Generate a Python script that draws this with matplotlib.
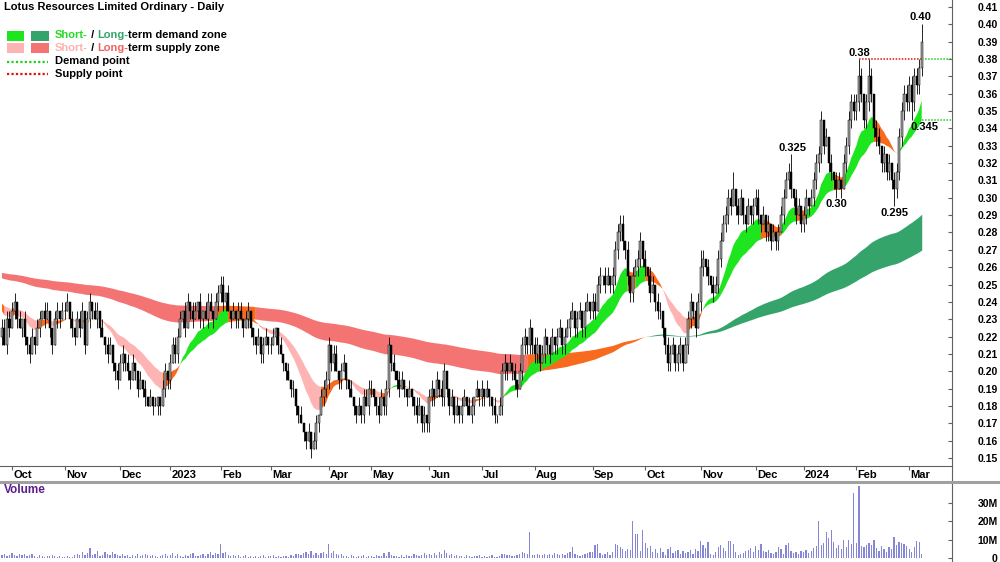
import matplotlib
matplotlib.use('Agg')
import matplotlib.pyplot as plt
from matplotlib import font_manager
from matplotlib.patches import Rectangle
from matplotlib.lines import Line2D
import numpy as np
import pandas as pd

# closing prices in thousandths of a dollar, one row per month (Sep 2022 .. Mar 2024)
close_milli = [
    225, 215, 230, 225,
    235, 240, 230, 225, 230, 220, 215, 210, 220, 215, 225, 230, 235, 230, 235, 225, 215, 230, 235, 230, 235,
    235, 240, 230, 225, 220, 230, 225, 235, 215, 230, 240, 235, 230, 235, 225, 220, 215, 210, 215, 205, 200, 195,
    205, 210, 205, 200, 195, 205, 200, 190, 195, 190, 185, 180, 185, 180, 180, 185, 180, 190, 200, 195,
    205, 215, 210, 220, 230, 235, 225, 240, 235, 230, 235, 240, 230, 235, 230, 240, 235, 230, 240, 245,
    250, 240, 245, 235, 230, 235, 230, 235, 230, 225, 230, 235, 225, 220, 215, 220, 210, 215, 220, 215,
    215, 220, 225, 215, 210, 205, 200, 195, 190, 190, 180, 175, 170, 165, 160, 165, 155, 160, 170, 175, 185, 190, 195,
    215, 205, 210, 200, 195, 200, 205, 195, 190, 185, 180, 175, 180, 175, 185, 180, 190,
    190, 185, 180, 175, 185, 180, 190, 215, 205, 200, 195, 190, 195, 190, 185, 190, 185, 180, 175, 180, 170, 175, 170,
    185, 190, 185, 195, 190, 185, 200, 190, 180, 185, 175, 180, 175, 180, 185, 180, 175, 180, 185, 190, 185,
    190, 185, 190, 185, 180, 175, 175, 180, 200, 205, 200, 205, 200, 195, 190, 200, 215, 220, 215, 225, 215,
    210, 215, 205, 210, 220, 215, 210, 220, 215, 220, 225, 215, 220, 225, 230, 235, 225, 230, 235, 225, 235, 240, 235,
    240, 235, 250, 255, 255, 250, 255, 250, 255, 270, 280, 285, 275, 270, 255, 245, 255, 260, 265, 275, 265,
    260, 255, 245, 250, 240, 235, 235, 225, 215, 205, 210, 215, 205, 210, 215, 205, 215, 230, 240, 235, 225, 240,
    260, 265, 260, 255, 250, 245, 250, 265, 275, 285, 290, 300, 295, 305, 295, 290, 300, 290, 285, 295, 290, 295,
    300, 290, 285, 290, 280, 285, 275, 280, 275, 280, 290, 300, 310, 315, 305, 300, 290, 295, 285,
    290, 300, 295, 300, 310, 320, 325, 345, 330, 335, 320, 315, 310, 305, 310, 305, 320, 330, 345, 355, 350,
    355, 370, 360, 345, 355, 370, 360, 340, 335, 330, 320, 325, 315, 320, 310, 305, 315, 335, 350, 360, 355,
    365, 355, 370, 365, 375, 390,
]
first_open = 0.220

# upper / lower wick lengths in price steps of half a cent
wick_up = [
    1, 1, 1, 1,
    1, 1, 0, 1, 0, 1, 0, 1, 1, 0, 1, 1, 0, 1, 1, 0, 0, 1, 1, 0, 1,
    1, 1, 0, 1, 0, 1, 1, 1, 0, 1, 1, 0, 1, 1, 0, 1, 0, 1, 1, 0, 0, 1,
    1, 1, 0, 1, 0, 1, 0, 0, 1, 0, 1, 0, 1, 0, 1, 0, 0, 1, 1, 0,
    1, 1, 1, 1, 1, 0, 1, 1, 0, 1, 1, 0, 1, 0, 1, 1, 1, 0, 1, 1,
    1, 1, 0, 1, 0, 1, 0, 1, 1, 0, 1, 1, 0, 0, 0, 1, 0, 1, 1, 0,
    1, 1, 0, 0, 1, 0, 0, 1, 0, 1, 0, 0, 1, 0, 0, 1, 0, 1, 1, 0, 1, 1, 1,
    1, 0, 1, 1, 0, 1, 1, 0, 0, 1, 0, 0, 1, 0, 1, 1, 1,
    1, 0, 0, 1, 1, 0, 1, 1, 0, 1, 0, 1, 1, 0, 0, 1, 0, 0, 1, 1, 0, 1, 0,
    1, 1, 0, 1, 0, 1, 1, 0, 0, 1, 0, 1, 0, 1, 1, 0, 1, 1, 0, 1, 0,
    1, 0, 1, 0, 0, 1, 0, 1, 1, 1, 0, 1, 0, 1, 0, 1, 1, 1, 0, 1, 0,
    1, 1, 0, 1, 1, 0, 1, 1, 0, 1, 1, 0, 1, 1, 1, 1, 0, 1, 1, 0, 1, 1, 0,
    1, 1, 1, 1, 0, 1, 1, 0, 1, 1, 1, 1, 1, 0, 1, 0, 1, 1, 1, 1, 0,
    1, 0, 1, 1, 0, 1, 1, 0, 0, 1, 1, 1, 0, 1, 1, 0, 1, 1, 1, 0, 1, 1,
    2, 1, 0, 1, 0, 1, 1, 1, 1, 1, 1, 1, 1, 2, 0, 1, 1, 0, 1, 1, 0, 1,
    1, 1, 0, 1, 0, 1, 0, 1, 0, 1, 1, 1, 1, 1, 2, 0, 1, 1, 0,
    1, 1, 0, 1, 1, 1, 1, 1, 0, 1, 0, 1, 0, 1, 1, 0, 1, 1, 1, 1, 1,
    1, 2, 1, 0, 1, 2, 1, 0, 1, 1, 0, 1, 0, 1, 0, 1, 1, 1, 1, 1, 1,
    1, 1, 1, 1, 1, 2,
]
wick_dn = [
    1, 0, 1, 1,
    0, 1, 1, 0, 1, 1, 1, 1, 0, 1, 0, 1, 0, 1, 0, 1, 1, 0, 1, 1, 0,
    1, 0, 1, 1, 1, 0, 1, 0, 1, 0, 1, 1, 0, 1, 1, 0, 1, 1, 0, 1, 1, 1,
    0, 1, 1, 1, 1, 0, 1, 1, 0, 1, 1, 0, 0, 1, 0, 1, 1, 0, 1, 1,
    1, 0, 1, 1, 0, 1, 1, 0, 1, 1, 0, 1, 1, 1, 0, 1, 0, 1, 0, 1,
    1, 1, 1, 0, 1, 0, 1, 1, 0, 1, 0, 1, 1, 1, 1, 0, 1, 1, 0, 1,
    1, 0, 1, 1, 0, 1, 1, 0, 1, 1, 1, 1, 0, 1, 1, 0, 1, 0, 1, 1, 0, 1, 1,
    1, 1, 1, 0, 1, 1, 0, 1, 1, 0, 1, 1, 0, 1, 1, 0, 1,
    1, 1, 1, 1, 0, 1, 1, 1, 1, 0, 1, 1, 0, 1, 1, 0, 1, 1, 1, 0, 1, 1, 1,
    1, 1, 1, 0, 1, 1, 1, 1, 1, 0, 1, 0, 1, 1, 0, 1, 0, 1, 1, 0, 1,
    1, 1, 0, 1, 1, 1, 1, 0, 1, 1, 1, 0, 1, 1, 1, 0, 1, 1, 1, 1, 1,
    1, 1, 1, 0, 1, 1, 1, 0, 1, 1, 0, 1, 1, 0, 1, 0, 1, 1, 0, 1, 1, 0, 1,
    1, 1, 0, 1, 1, 1, 0, 1, 1, 1, 1, 1, 1, 1, 1, 1, 1, 0, 1, 1, 1,
    1, 1, 1, 0, 1, 1, 1, 1, 1, 1, 1, 0, 1, 1, 1, 1, 0, 1, 1, 1, 1, 0,
    1, 1, 1, 1, 1, 1, 0, 1, 1, 0, 1, 1, 1, 0, 1, 1, 0, 1, 1, 0, 1, 1,
    1, 1, 1, 0, 1, 1, 1, 0, 1, 1, 0, 1, 0, 1, 1, 1, 1, 0, 1,
    1, 1, 1, 0, 1, 1, 1, 1, 1, 0, 1, 1, 1, 1, 0, 1, 0, 1, 1, 1, 1,
    1, 1, 1, 1, 1, 1, 1, 1, 1, 1, 1, 1, 1, 1, 1, 2, 1, 1, 1, 1, 1,
    1, 2, 1, 1, 1, 1,
]

# daily volume in millions of shares
volume_m = [
    1.5, 2.0, 1.2, 1.8,
    2.5, 1.8, 1.2, 2.0, 1.5, 2.2, 1.0, 1.6, 2.4, 1.2, 0.8, 1.5, 1.1, 0.7, 1.3, 0.9, 1.8, 1.2, 0.6, 0.9, 0.5,
    0.7, 1.0, 0.6, 0.8, 1.4, 2.2, 1.6, 3.0, 1.8, 2.6, 5.2, 1.5, 2.0, 3.6, 1.2, 1.8, 3.2, 2.4, 1.6, 3.4, 2.0, 1.5,
    1.2, 2.0, 1.0, 1.6, 0.8, 1.8, 1.1, 2.4, 1.0, 1.5, 2.2, 1.4, 0.9, 1.7, 1.2, 0.6, 1.1, 1.6, 1.9, 1.3,
    1.5, 2.6, 1.2, 2.0, 1.1, 0.8, 1.4, 0.9, 2.1, 2.8, 1.3, 1.0, 1.8, 2.4, 1.2, 2.2, 3.0, 1.6, 2.8, 2.0,
    7.4, 2.5, 3.4, 1.4, 1.0, 1.8, 0.9, 1.5, 0.6, 1.2, 1.6, 0.8, 1.3, 0.7, 1.1, 0.5, 0.9, 1.4, 0.8, 1.2,
    0.9, 1.4, 0.7, 1.1, 0.6, 0.9, 1.3, 0.8, 1.6, 1.0, 1.9, 2.4, 1.4, 2.8, 3.2, 2.1, 3.6, 1.8, 2.6, 1.5, 2.9, 3.4, 2.0,
    7.5, 2.8, 3.8, 2.0, 1.6, 2.4, 1.3, 1.1, 0.8, 1.5, 1.0, 0.7, 1.2, 0.9, 1.4, 0.6, 1.1,
    1.0, 0.8, 1.5, 0.9, 1.3, 2.6, 1.1, 3.2, 1.8, 1.2, 0.9, 0.6, 1.4, 0.8, 1.7, 1.0, 1.3, 2.2, 1.5, 1.0, 1.8, 2.6, 1.4,
    2.2, 1.5, 2.8, 1.8, 3.0, 2.0, 4.4, 2.6, 1.6, 2.4, 1.2, 1.8, 0.9, 1.3, 0.8, 1.5, 1.1, 0.7, 1.2, 0.9, 1.4,
    0.8, 1.2, 0.6, 0.9, 1.4, 0.7, 0.5, 1.0, 2.4, 2.0, 1.4, 1.8, 0.9, 1.2, 1.6, 2.2, 3.0, 2.6, 2.2, 14.0, 1.8,
    1.6, 2.0, 1.4, 1.8, 2.2, 1.6, 2.4, 1.8, 2.6, 2.0, 1.5, 2.2, 1.8, 2.8, 3.0, 6.2, 2.4, 1.8, 1.2, 1.6, 2.0, 2.6, 3.2,
    3.0, 6.8, 7.5, 2.8, 1.5, 2.2, 3.0, 1.8, 3.4, 7.4, 7.0, 6.0, 4.8, 3.6, 5.0, 4.2, 20.0, 13.0, 12.8, 4.0, 15.4,
    8.2, 5.6, 6.4, 3.0, 4.8, 2.6, 5.6, 3.4, 1.8, 4.6, 6.2, 2.8, 3.6, 4.2, 2.0, 3.8, 2.6, 3.2, 4.4, 2.4, 5.0, 3.6,
    9.2, 6.8, 5.4, 8.4, 2.2, 1.6, 3.4, 6.0, 6.8, 5.2, 3.8, 9.0, 9.4, 7.6, 3.2, 1.8, 2.4, 2.8, 3.6, 4.4, 5.6, 3.0,
    6.4, 4.2, 7.4, 3.6, 3.0, 4.4, 2.8, 2.2, 3.2, 5.8, 4.6, 2.4, 6.8, 8.2, 4.0, 2.6, 3.4, 2.0, 3.6,
    3.0, 4.2, 2.6, 3.6, 5.2, 6.4, 20.2, 7.2, 8.0, 14.2, 10.6, 15.0, 8.4, 5.6, 7.2, 4.8, 9.8, 6.0, 9.6, 7.8, 35.0,
    8.0, 38.8, 6.4, 6.0, 7.2, 8.2, 6.8, 9.8, 5.6, 4.0, 6.6, 4.8, 3.2, 6.2, 5.0, 11.2, 7.0, 8.6, 8.0, 7.4, 6.4,
    4.6, 3.0, 6.0, 9.0, 8.6, 2.2,
]

asx_holidays = ['2022-12-26', '2022-12-27', '2023-01-02', '2023-01-26', '2023-04-07',
                '2023-04-10', '2023-04-25', '2023-06-12', '2023-12-25', '2023-12-26',
                '2024-01-01', '2024-01-26']

# moving average settings for the zones (span, starting value)
short_fast, short_slow = (15, 0.236), (30, 0.240)
long_fast, long_slow = (150, 0.254), (250, 0.257)

month_names = {1: None, 2: 'Feb', 3: 'Mar', 4: 'Apr', 5: 'May', 6: 'Jun', 7: 'Jul',
               8: 'Aug', 9: 'Sep', 10: 'Oct', 11: 'Nov', 12: 'Dec'}

dates = pd.bdate_range('2022-09-27', '2024-03-08')
dates = dates[~dates.isin(pd.to_datetime(asx_holidays))]

closes = np.array(close_milli) / 1000
opens = np.r_[first_open, closes[:-1]]
highs = np.maximum(opens, closes) + np.array(wick_up) * 0.005
lows = np.minimum(opens, closes) - np.array(wick_dn) * 0.005
vol = np.array(volume_m) * 1e6
n = len(closes)
x = np.arange(n)


def ema(span_seed):
    span, seed = span_seed
    return pd.Series(np.r_[seed, closes]).ewm(span=span, adjust=False).mean().values[1:]


names = {f.name for f in font_manager.fontManager.ttflist}
main_font = 'Liberation Sans Narrow' if 'Liberation Sans Narrow' in names else 'Liberation Sans'
plt.rcParams['font.family'] = [main_font, 'DejaVu Sans']
plt.rcParams['font.weight'] = 'bold'

H = 562.0


def fy(px):
    return 1 - px / H


fig = plt.figure(figsize=(10, 5.62), dpi=100)
ax = fig.add_axes([0, fy(466), 0.952, 466 / H])
ax_d = fig.add_axes([0, fy(481), 0.952, 15 / H])
ax_v = fig.add_axes([0, 0, 0.952, (562 - 482) / H])

x_lo, x_hi = -0.78, 378.05
for a in (ax, ax_d, ax_v):
    a.set_xlim(x_lo, x_hi)
    a.set_xticks([])
    for s in ('left', 'top', 'bottom'):
        a.spines[s].set_visible(False)
    a.spines['right'].set_color('#606060')
ax_d.spines['top'].set_visible(True)
ax_d.spines['top'].set_color('#606060')
ax_d.set_yticks([])
ax_d.set_ylim(0, 1)

# zones: demand when fast above slow and trend up, supply when both down, orange otherwise
ORANGE = '#f86a1d'


def draw_zone(fast, slow, trend_up, demand, supply, z):
    above = fast >= slow
    cat = np.where(above & trend_up, 0, np.where(~above & ~trend_up, 1, 2))
    for c, col in zip((0, 1, 2), (demand, supply, ORANGE)):
        m = cat == c
        m = m | np.r_[False, m[:-1]]
        ax.fill_between(x, fast, slow, where=m, color=col, lw=0, zorder=z)


sf, ss = ema(short_fast), ema(short_slow)
lf, ls = ema(long_fast), ema(long_slow)
draw_zone(lf, ls, sf > lf, '#35a46b', '#f47474', 1)
draw_zone(sf, ss, np.diff(sf, prepend=sf[0]) >= 0, '#1ee61e', '#ffb4b4', 2)

# candles
up = closes >= opens
ax.vlines(x, lows, highs, color='black', lw=0.6, zorder=3)
ax.bar(x, np.abs(closes - opens), bottom=np.minimum(opens, closes), width=0.8,
       color=np.where(up, '#a4a4a4', 'black'), edgecolor='black', linewidth=0.35, zorder=4)

ax.set_ylim(0.1454, 0.414)
ax.yaxis.tick_right()
yt = np.round(np.arange(0.15, 0.415, 0.01), 2)
ax.set_yticks(yt, labels=['%.2f' % v for v in yt], ha='right', fontweight='bold', fontsize=7.5)
ax.tick_params(axis='y', direction='in', length=3, pad=33, color='#606060')


def idx_of(start, end, arr, fn):
    sel = np.where((dates >= start) & (dates <= end))[0]
    return sel[fn(arr[sel])]


# supply / demand points
i_sup = idx_of('2024-01-25', '2024-02-10', highs, np.argmax)
dot = (0, (1, 1))
ax.hlines(0.38, i_sup, n - 1, colors='#dd1111', linestyles=dot, lw=1.1, zorder=5)
ax.hlines(0.38, n - 1, x_hi, colors='#22cc22', linestyles=dot, lw=1.1, zorder=5)
ax.hlines(0.345, n - 1, x_hi, colors='#22cc22', linestyles=dot, lw=1.1, zorder=5)

ann = dict(ha='center', fontsize=8, fontweight='bold', textcoords='offset points', zorder=6)
ax.annotate('0.40', (n - 1, highs[-1]), xytext=(-1, 2), va='bottom', **ann)
ax.annotate('0.38', (i_sup, 0.38), xytext=(0, 1), va='bottom', **ann)
ax.annotate('0.325', (idx_of('2023-12-10', '2023-12-31', highs, np.argmax), 0.325), xytext=(1, 1), va='bottom', **ann)
ax.annotate('0.30', (idx_of('2024-01-10', '2024-01-25', lows, np.argmin), 0.30), xytext=(0, -1), va='top', **ann)
ax.annotate('0.295', (idx_of('2024-02-10', '2024-02-29', lows, np.argmin), 0.295), xytext=(0, -1), va='top', **ann)
ax.annotate('0.345', (n, 0.345), xytext=(0, -2), va='top', **ann)

# date strip
for i in range(1, n):
    if dates[i].month != dates[i - 1].month:
        lab = month_names[dates[i].month] or str(dates[i].year)
        ax_d.vlines(i, 0.72, 1, color='#606060', lw=0.8)
        ax_d.text(i + 0.5, 0.42, lab, ha='left', va='center', fontsize=8, fontweight='bold')

fig.add_artist(Line2D([0, 1], [fy(481.5)] * 2, color='#a0a0a0', lw=2.2, transform=fig.transFigure))

# volume
ax_v.bar(x, vol, width=0.5, color='#8686d6', lw=0)
ax_v.set_ylim(-2.16e6, 41.1e6)
ax_v.yaxis.tick_right()
ax_v.set_yticks([0, 10e6, 20e6, 30e6], labels=['0', '10M', '20M', '30M'], ha='right',
                fontweight='bold', fontsize=7.5)
ax_v.tick_params(axis='y', direction='in', length=3, pad=33, color='#606060')
fig.text(4 / 1000, fy(490), 'Volume', color='#5a1f8c', fontsize=8.5, fontweight='bold', va='center')

# title and legend
fig.text(4 / 1000, fy(7), 'Lotus Resources Limited Ordinary - Daily', fontsize=8, fontweight='bold', va='center')

for (x0, x1), y0, col in [((7, 24), 31, '#1ee61e'), ((31, 49), 31, '#35a46b'),
                          ((7, 24), 43.5, '#ffb4b4'), ((31, 49), 43.5, '#f47474')]:
    fig.add_artist(Rectangle((x0 / 1000, fy(y0 + 9.5)), (x1 - x0) / 1000, 9.5 / H,
                             transform=fig.transFigure, color=col, lw=0))
fig.add_artist(Line2D([7 / 1000, 48 / 1000], [fy(62)] * 2, color='#22cc22', lw=1.6,
                      linestyle=(0, (1, 1)), transform=fig.transFigure))
fig.add_artist(Line2D([7 / 1000, 48 / 1000], [fy(74)] * 2, color='#dd1111', lw=1.6,
                      linestyle=(0, (1, 1)), transform=fig.transFigure))


def multi_text(x_px, y_px, parts):
    t = fig.text(x_px / 1000, fy(y_px), parts[0][0], color=parts[0][1], fontsize=8,
                 fontweight='bold', va='center')
    for s, c in parts[1:]:
        t = ax.annotate(s, xy=(1, 0), xycoords=t, va='bottom', color=c, fontsize=8,
                        fontweight='bold', annotation_clip=False)


multi_text(55, 35.5, [('Short-', '#22dd22'), (' / ', 'black'), ('Long-', '#35a46b'),
                      ('term demand zone', 'black')])
multi_text(55, 48, [('Short-', '#ffb0b0'), (' / ', 'black'), ('Long-', '#f06262'),
                    ('term supply zone', 'black')])
fig.text(55 / 1000, fy(61.5), 'Demand point', fontsize=8, fontweight='bold', va='center')
fig.text(55 / 1000, fy(74), 'Supply point', fontsize=8, fontweight='bold', va='center')

fig.savefig('out.png', dpi=100)
